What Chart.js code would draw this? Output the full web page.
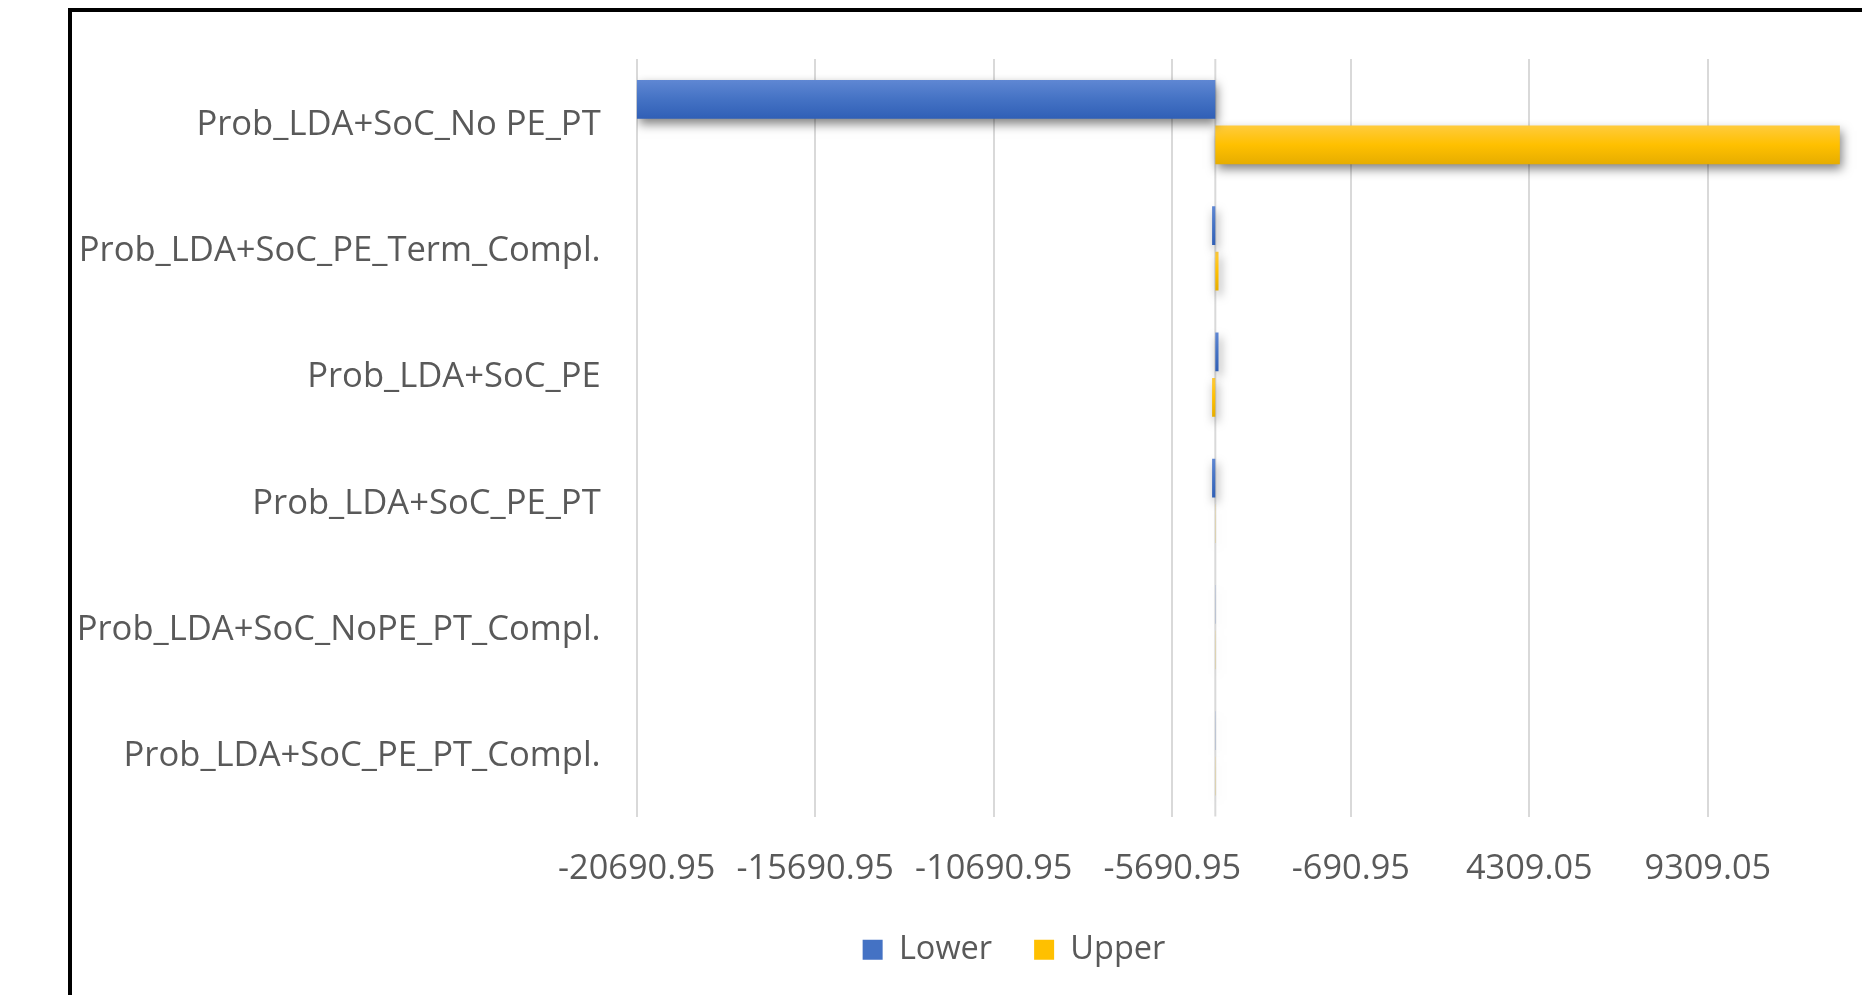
<!DOCTYPE html>
<html>
<head>
<meta charset="utf-8">
<script src="https://cdn.jsdelivr.net/npm/chart.js@4/dist/chart.umd.min.js"></script>
<style>
  html, body { margin: 0; padding: 0; background: #ffffff; overflow: hidden; width: 1862px; height: 995px; }
  #frame { position: absolute; left: 68px; top: 8px; width: 2000px; height: 1100px;
           border-left: 4px solid #000; border-top: 4px solid #000; pointer-events: none; }
  #chart { position: absolute; left: 0; top: 0; }
</style>
</head>
<body>
<canvas id="chart" width="1950" height="995"></canvas>
<div id="frame"></div>
<script>
// Scenario names (top to bottom)
const categories = [
  'Prob_LDA+SoC_No PE_PT',
  'Prob_LDA+SoC_PE_Term_Compl.',
  'Prob_LDA+SoC_PE',
  'Prob_LDA+SoC_PE_PT',
  'Prob_LDA+SoC_NoPE_PT_Compl.',
  'Prob_LDA+SoC_PE_PT_Compl.'
];

// Base case value where the bars start (vertical axis crossing)
const baseValue = -4486;

// Low and high outcomes per scenario
const lowerValues = [-20690.95, -4576, -4396, -4576, -4481, -4481];
const upperValues = [13005, -4396, -4576, -4481, -4481, -4481];

// Horizontal axis ticks
const xTicks = [-20690.95, -15690.95, -10690.95, -5690.95, -690.95, 4309.05, 9309.05];
const xMin = -20690.95;
const xMax = 14309.05;

const seriesNames = ['Lower', 'Upper'];
const seriesColors = ['#4472C4', '#FFC000'];
const seriesShades = [
  ['#5f87d3', '#4472C4', '#305fb6'],
  ['#ffcb3d', '#FFC000', '#e6ad00']
];

const textColor = '#595959';
const legendCenterX = 1014;
Chart.defaults.font.family = '"Open Sans", "Liberation Sans", sans-serif';
Chart.defaults.color = textColor;

// Axis line at the base value, vertical shading and drop shadow on the bars
const barLook = {
  id: 'barLook',
  afterLayout(chart) {
    const lg = chart.legend;
    if (lg) {
      const dx = legendCenterX - (lg.left + lg.right) / 2;
      lg.left += dx;
      lg.right += dx;
    }
  },
  beforeDatasetsDraw(chart) {
    const ctx = chart.ctx;
    const xs = chart.scales.x;
    const area = chart.chartArea;
    const bx = xs.getPixelForValue(baseValue);
    ctx.save();
    ctx.strokeStyle = '#d9d9d9';
    ctx.lineWidth = 2;
    ctx.beginPath();
    ctx.moveTo(bx, area.top);
    ctx.lineTo(bx, area.bottom);
    ctx.stroke();
    ctx.restore();

    chart.data.datasets.forEach((ds, i) => {
      const meta = chart.getDatasetMeta(i);
      const shades = seriesShades[i];
      meta.data.forEach(el => {
        const p = el.getProps(['y', 'height'], true);
        const g = ctx.createLinearGradient(0, p.y - p.height / 2, 0, p.y + p.height / 2);
        g.addColorStop(0, shades[0]);
        g.addColorStop(0.5, shades[1]);
        g.addColorStop(1, shades[2]);
        el.options = Object.assign({}, el.options, { backgroundColor: g });
      });
    });

    ctx.save();
    ctx.shadowColor = 'rgba(0,0,0,0.5)';
    ctx.shadowBlur = 10;
    ctx.shadowOffsetX = 2;
    ctx.shadowOffsetY = 5;
  },
  afterDatasetsDraw(chart) {
    chart.ctx.restore();
  }
};

new Chart(document.getElementById('chart'), {
  type: 'bar',
  data: {
    labels: categories,
    datasets: [
      {
        label: seriesNames[0],
        data: lowerValues.map(v => [baseValue, v]),
        backgroundColor: seriesColors[0],
        borderWidth: 0,
        categoryPercentage: 0.72,
        barPercentage: 0.85
      },
      {
        label: seriesNames[1],
        data: upperValues.map(v => [baseValue, v]),
        backgroundColor: seriesColors[1],
        borderWidth: 0,
        categoryPercentage: 0.72,
        barPercentage: 0.85
      }
    ]
  },
  options: {
    indexAxis: 'y',
    responsive: false,
    animation: false,
    devicePixelRatio: 1,
    layout: { padding: { left: 0, right: 63.6, top: 59, bottom: 19 } },
    scales: {
      x: {
        type: 'linear',
        min: xMin,
        max: xMax,
        afterBuildTicks(scale) { scale.ticks = xTicks.map(v => ({ value: v })); },
        afterFit(scale) { scale.height = 75; },
        grid: { color: '#d9d9d9', lineWidth: 2, drawTicks: false },
        border: { display: false },
        ticks: {
          autoSkip: false,
          maxRotation: 0,
          padding: 32,
          color: textColor,
          font: { size: 34.3 },
          callback: v => Number(v).toFixed(2)
        }
      },
      y: {
        type: 'category',
        afterFit(scale) { scale.width = 636.7; },
        grid: { display: false, drawTicks: false },
        border: { display: false },
        ticks: { padding: 36, labelOffset: 3, color: textColor, font: { size: 34.6 } }
      }
    },
    plugins: {
      legend: {
        position: 'bottom',
        labels: {
          boxWidth: 20,
          boxHeight: 20,
          padding: 42,
          color: textColor,
          font: { size: 32.5 }
        }
      },
      tooltip: { enabled: false }
    }
  },
  plugins: [barLook]
});
</script>
</body>
</html>
